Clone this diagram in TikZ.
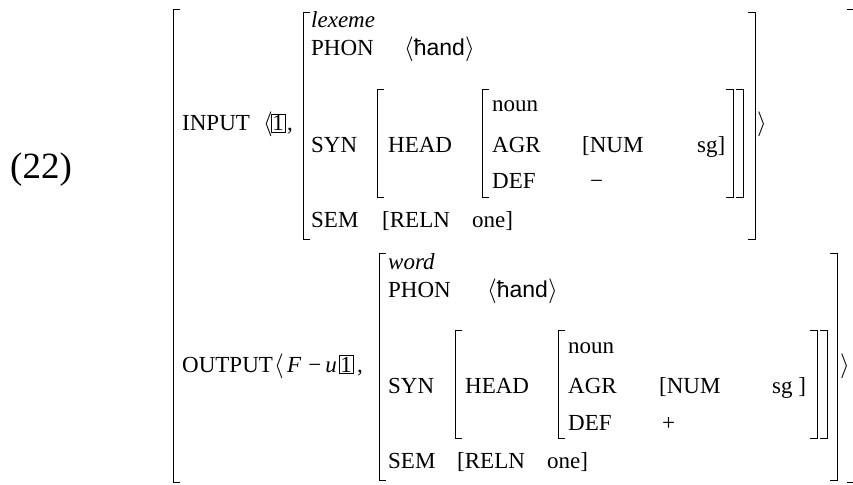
\documentclass[tikz,border=0pt]{standalone}
\usepackage{fontspec}
\setmainfont{Liberation Serif}
\newfontfamily\phonfont{Liberation Sans}
\newcommand{\OpenBr}[3]{\draw[brk] ({#1+7},#2) -- (#1,#2) -- (#1,#3) -- ({#1+7},#3);}
\newcommand{\CloseBr}[3]{\draw[brk] ({#1-7},#2) -- (#1,#2) -- (#1,#3) -- ({#1-7},#3);}

\begin{document}
\begin{tikzpicture}[x=1pt,y=-1pt]
  \tikzstyle{feat}=[anchor=base west,inner sep=0pt,font=\fontsize{23}{27}\selectfont]
  \tikzstyle{tag}=[feat,draw,line width=0.7pt,inner xsep=1pt,inner ysep=1pt]
  \tikzstyle{brk}=[line width=0.8pt]
  \useasboundingbox (0,0) rectangle (853,484);
  \node[feat,font=\fontsize{37}{40}\selectfont] (exnum) at (10,178) {(22)};
  \OpenBr{173}{9}{482}
  \CloseBr{853.6}{9}{482}
  % input
  \node[feat] (inp) at (182,131) {INPUT};
  \node[feat] (inlt) at (263,131) {$\langle$};
  \node[tag] (intag) at (271,131) {1};
  \node[feat] (incm) at (287,131) {,};
  \OpenBr{303}{12}{239}
  \node[feat] (lex) at (311,28) {\textit{lexeme}};
  \node[feat] (phon1) at (311,56) {PHON};
  \node[feat] (phval1) at (404,56) {$\big\langle${\phonfont ħand}$\big\rangle$};
  \node[feat] (syn1) at (311,152) {SYN};
  \OpenBr{377}{89}{197}
  \node[feat] (head1) at (388,152) {HEAD};
  \OpenBr{482}{89}{197}
  \node[feat] (noun1) at (492,112) {noun};
  \node[feat] (agr1) at (492,152) {AGR};
  \node[feat] (num1) at (582,152) {[NUM};
  \node[feat] (sg1) at (697,152) {sg]};
  \node[feat] (def1) at (492,188) {DEF};
  \node[feat] (defv1) at (590,188) {−};
  \CloseBr{733}{89}{197}
  \CloseBr{743}{89}{197}
  \node[feat] (sem1) at (311,227) {SEM};
  \node[feat] (reln1) at (382,227) {[RELN};
  \node[feat] (one1) at (472,227) {one]};
  \CloseBr{755}{12}{239}
  \node[feat] (inrt) at (757,131) {$\rangle$};
  % output
  \node[feat] (outp) at (182,372) {OUTPUT};
  \node[feat] (outlt) at (274,372) {$\langle$};
  \node[feat] (fu) at (287,372) {\textit{F}\hspace{7pt}−\hspace{4pt}\textit{u}};
  \node[tag] (outtag) at (339,372) {1};
  \node[feat] (outcm) at (357,372) {,};
  \OpenBr{379}{253}{480}
  \node[feat] (word) at (388,269) {\textit{word}};
  \node[feat] (phon2) at (388,297) {PHON};
  \node[feat] (phval2) at (487,297) {$\big\langle${\phonfont ħand}$\big\rangle$};
  \node[feat] (syn2) at (388,393) {SYN};
  \OpenBr{455}{330}{438}
  \node[feat] (head2) at (465,393) {HEAD};
  \OpenBr{558}{330}{438}
  \node[feat] (noun2) at (568,353) {noun};
  \node[feat] (agr2) at (568,393) {AGR};
  \node[feat] (num2) at (659,393) {[NUM};
  \node[feat] (sg2) at (772,393) {sg ]};
  \node[feat] (def2) at (568,430) {DEF};
  \node[feat] (defv2) at (662,430) {+};
  \CloseBr{817}{330}{438}
  \CloseBr{827}{330}{438}
  \node[feat] (sem2) at (388,468) {SEM};
  \node[feat] (reln2) at (457,468) {[RELN};
  \node[feat] (one2) at (547,468) {one]};
  \CloseBr{837}{253}{480}
  \node[feat] (outrt) at (840,372) {$\rangle$};
\end{tikzpicture}
\end{document}
